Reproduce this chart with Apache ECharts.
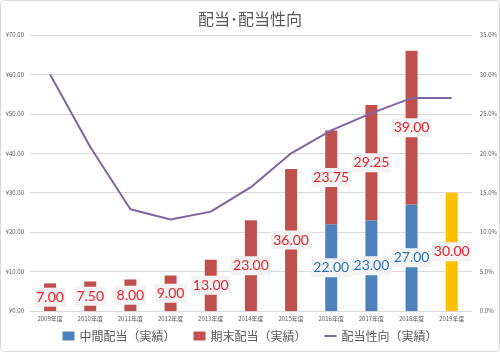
<!DOCTYPE html>
<html><head><meta charset="utf-8">
<script src="https://cdn.jsdelivr.net/npm/echarts@6/dist/echarts.min.js"></script>
<style>html,body{margin:0;padding:0;background:#fff}#c{width:500px;height:352px}</style>
</head><body><div id="c"></div>
<script>
const categories = ['2009年度','2010年度','2011年度','2012年度','2013年度','2014年度','2015年度','2016年度','2017年度','2018年度','2019年度'];
const interimDiv = [null,null,null,null,null,null,null,22.00,23.00,27.00,null];
const yearEndDiv = [7.00,7.50,8.00,9.00,13.00,23.00,36.00,23.75,29.25,39.00,null];
const forecastDiv = [null,null,null,null,null,null,null,null,null,null,30.00];
const payoutRatio = [30.0,20.8,12.9,11.6,12.6,15.7,20.0,22.9,25.1,27.0,27.0];
const leftTicks = {min:0,max:70,interval:10};
const rightTicks = {min:0,max:35,interval:5};

const chart = echarts.init(document.getElementById('c'));
const font = "'Noto Sans CJK JP', 'Noto Sans', sans-serif";
function lbl(color){
  return {show:true,position:'inside',formatter:p=>p.value==null?'':Number(p.value).toFixed(2),
    color:color,fontSize:14,fontFamily:"Lato, 'Open Sans', sans-serif",
    backgroundColor:'#f3f3f3',padding:[2,2,1,2],lineHeight:16};
}
chart.setOption({
  animation:false,
  textStyle:{fontFamily:font},
  title:{text:'配当･配当性向',left:'center',top:6,textStyle:{fontSize:16,fontWeight:'normal',color:'#595959',fontFamily:font}},
  graphic:[{type:'rect',shape:{x:0.5,y:0.5,width:499,height:351,r:3},style:{fill:'none',stroke:'#d9d9d9',lineWidth:1},silent:true}],
  grid:{left:30,right:27,top:35,bottom:41,containLabel:false},
  legend:{bottom:5,left:'center',itemGap:18,itemWidth:12,itemHeight:9,
    textStyle:{fontSize:12,color:'#595959',fontFamily:font},
    data:[{name:'中間配当（実績）',icon:'rect'},{name:'期末配当（実績）',icon:'rect'},{name:'配当性向（実績）',icon:'path://M0,4 L12,4 L12,6 L0,6 Z',itemStyle:{color:'#8064a2'}}]},
  xAxis:{type:'category',data:categories,axisTick:{show:false},
    axisLine:{lineStyle:{color:'#d9d9d9'}},
    axisLabel:{fontSize:6,color:'#595959',margin:5,interval:0}},
  yAxis:[
    {type:'value',min:leftTicks.min,max:leftTicks.max,interval:leftTicks.interval,
     axisLabel:{fontSize:6,color:'#595959',formatter:v=>'¥'+v.toFixed(2),margin:6},
     splitLine:{lineStyle:{color:'#d9d9d9'}},axisLine:{show:false},axisTick:{show:false}},
    {type:'value',min:rightTicks.min,max:rightTicks.max,interval:rightTicks.interval,
     axisLabel:{fontSize:6,color:'#595959',formatter:v=>v.toFixed(1)+'%',margin:8},
     splitLine:{show:false},axisLine:{show:false},axisTick:{show:false}}
  ],
  series:[
    {name:'中間配当（実績）',type:'bar',stack:'d',barWidth:12,data:interimDiv,
     itemStyle:{color:'#4f81bd'},label:lbl('#2e75b6')},
    {name:'期末配当（実績）',type:'bar',stack:'d',barWidth:12,data:yearEndDiv,
     itemStyle:{color:'#c0504d'},label:lbl('#e8202a')},
    {name:'予想',type:'bar',stack:'d',barWidth:12,data:forecastDiv,
     itemStyle:{color:'#ffc000'},label:lbl('#e8202a')},
    {name:'配当性向（実績）',type:'line',yAxisIndex:1,data:payoutRatio,symbol:'none',
     lineStyle:{color:'#8064a2',width:2},itemStyle:{color:'#8064a2'},z:5}
  ]
});
</script></body></html>
